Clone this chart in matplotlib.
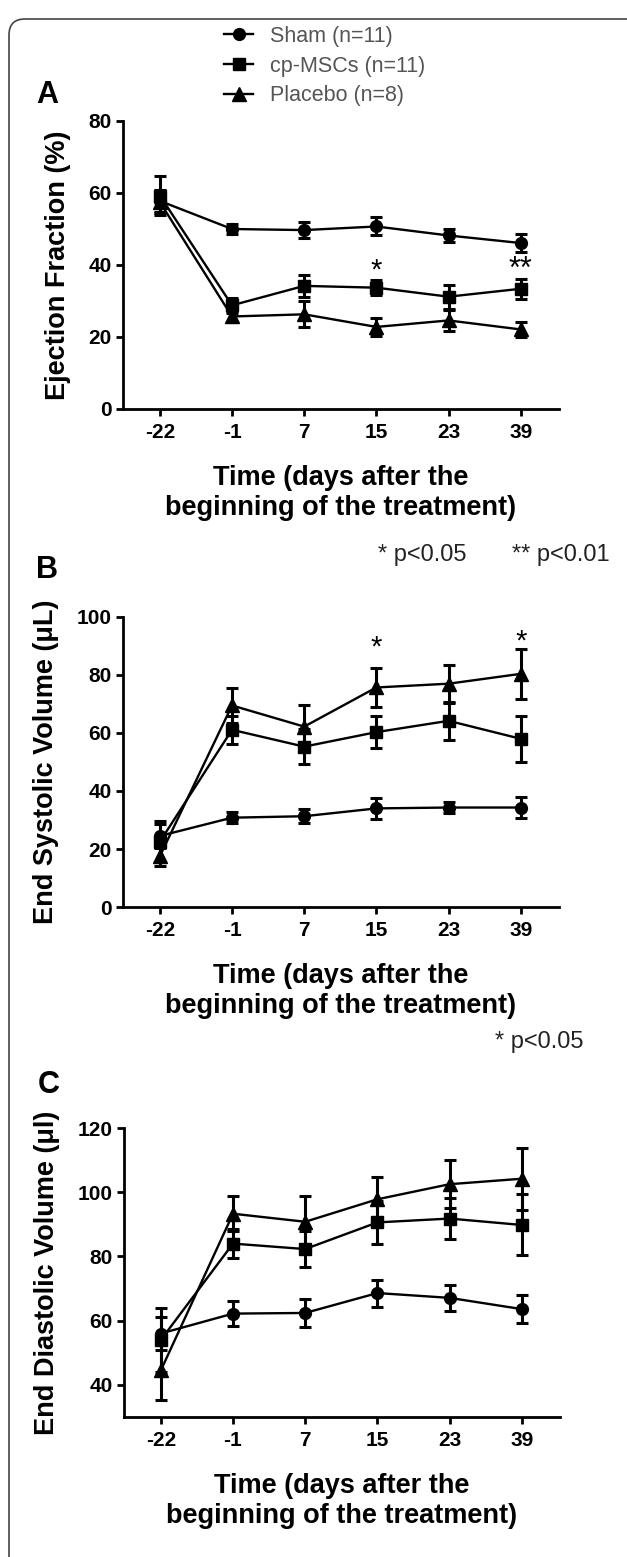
import matplotlib
matplotlib.use('Agg')
from matplotlib import pyplot as plt
from matplotlib.patches import FancyBboxPatch

plt.rcParams['font.family'] = ['Liberation Sans', 'DejaVu Sans']

days = ['-22', '-1', '7', '15', '23', '39']
groups = ['Sham (n=11)', 'cp-MSCs (n=11)', 'Placebo (n=8)']
markers = ['o', 's', '^']

# ejection fraction (%)
ef_sham = [57.8, 50.0, 49.7, 50.7, 48.2, 46.1]
ef_sham_err = [3.0, 1.5, 2.3, 2.5, 1.8, 2.4]
ef_msc = [59.3, 28.8, 34.2, 33.7, 31.2, 33.4]
ef_msc_err = [5.5, 2.0, 3.0, 2.0, 3.3, 2.8]
ef_plac = [57.5, 25.7, 26.3, 22.8, 24.6, 22.1]
ef_plac_err = [3.0, 1.5, 3.6, 2.5, 2.8, 2.0]

# end systolic volume (uL)
esv_sham = [24.5, 30.8, 31.3, 34.0, 34.3, 34.3]
esv_sham_err = [4.0, 2.0, 2.5, 3.5, 2.0, 3.5]
esv_msc = [22.5, 61.1, 55.3, 60.3, 64.2, 58.0]
esv_msc_err = [7.0, 4.8, 6.0, 5.5, 6.5, 8.0]
esv_plac = [17.5, 69.5, 62.2, 75.7, 77.0, 80.4]
esv_plac_err = [3.5, 6.0, 7.5, 6.8, 6.6, 8.6]

# end diastolic volume (ul)
edv_sham = [56.0, 62.2, 62.4, 68.6, 67.1, 63.6]
edv_sham_err = [5.0, 3.8, 4.3, 4.2, 4.0, 4.3]
edv_msc = [54.0, 84.0, 82.3, 90.6, 91.8, 89.8]
edv_msc_err = [10.0, 4.4, 5.6, 6.7, 6.4, 9.5]
edv_plac = [44.5, 93.3, 90.8, 97.8, 102.5, 104.2]
edv_plac_err = [9.2, 5.5, 8.0, 6.8, 7.4, 9.6]

W, H = 627, 1557


def fx(px):
    return px / W


def fy(py):
    return 1 - py / H


fig = plt.figure(figsize=(W / 100, H / 100), dpi=100)

# rounded frame
frame = FancyBboxPatch((0.09, -0.2), 6.5, 15.58, boxstyle='round,pad=0,rounding_size=0.16',
                       transform=fig.dpi_scale_trans, fill=False, edgecolor='#444444', linewidth=1.2)
fig.patches.append(frame)

panels = [
    # top px, bottom px, left px, right px, ylim, yticks, ylabel, ylabel x, letter pos
    (121, 409, 123, 559, (0, 80), [0, 20, 40, 60, 80], 'Ejection Fraction (%)', 58, (47, 95),
     [ef_sham, ef_msc, ef_plac], [ef_sham_err, ef_msc_err, ef_plac_err], 'A'),
    (617, 907, 123, 559, (0, 100), [0, 20, 40, 60, 80, 100], 'End Systolic Volume (\u03bcL)', 46, (47, 570),
     [esv_sham, esv_msc, esv_plac], [esv_sham_err, esv_msc_err, esv_plac_err], 'B'),
    (1128, 1417, 124, 560, (30, 120), [40, 60, 80, 100, 120], 'End Diastolic Volume (\u03bcl)', 47, (49, 1085),
     [edv_sham, edv_msc, edv_plac], [edv_sham_err, edv_msc_err, edv_plac_err], 'C'),
]

x = list(range(len(days)))
axes_list = []
handles = []
for top, bot, left, right, ylim, yticks, ylabel, ylx, lpos, series, errs, letter in panels:
    ax = fig.add_axes([fx(left), fy(bot), (right - left) / W, (bot - top) / H])
    axes_list.append(ax)
    handles = []
    for vals, err, m in zip(series, errs, markers):
        c = ax.errorbar(x, vals, yerr=err, color='black', marker=m,
                        markersize=9.5 if m == '^' else 8.5, linewidth=1.7,
                        elinewidth=2.2, capsize=4.5, capthick=2.2)
        handles.append(c[0])
    ax.set_xlim(-0.51, 5.53)
    ax.set_ylim(*ylim)
    ax.set_xticks(x)
    ax.set_xticklabels(days)
    ax.set_yticks(yticks)
    ax.spines['top'].set_visible(False)
    ax.spines['right'].set_visible(False)
    for s in ['left', 'bottom']:
        ax.spines[s].set_linewidth(2)
    ax.tick_params(axis='both', length=5, width=2, labelsize=15, direction='out')
    ax.tick_params(axis='x', pad=5)
    ax.tick_params(axis='y', pad=3)
    for lab in ax.get_xticklabels() + ax.get_yticklabels():
        lab.set_fontweight('bold')
    fig.text(fx(ylx), fy((top + bot) / 2), ylabel, rotation=90, ha='center', va='center',
             fontsize=19.5, fontweight='bold')
    fig.text(fx((left + right) / 2), fy(bot + 84), 'Time (days after the\nbeginning of the treatment)',
             ha='center', va='center', fontsize=19.5, fontweight='bold', linespacing=1.2)
    fig.text(fx(lpos[0]), fy(lpos[1]), letter, ha='center', va='center', fontsize=22, fontweight='bold')

# significance marks
axA, axB, axC = axes_list
axA.text(3, 38.5, '*', ha='center', va='center', fontsize=21)
axA.text(5, 38.5, '**', ha='center', va='center', fontsize=22)
axB.text(3, 89.5, '*', ha='center', va='center', fontsize=21)
axB.text(5, 91.5, '*', ha='center', va='center', fontsize=21)

fig.text(fx(378), fy(555), '* p<0.05', ha='left', va='center', fontsize=17, color='#222222')
fig.text(fx(512), fy(555), '** p<0.01', ha='left', va='center', fontsize=17, color='#222222')
fig.text(fx(495), fy(1042), '* p<0.05', ha='left', va='center', fontsize=17, color='#222222')

fig.legend(handles, groups, loc='upper left', bbox_to_anchor=(fx(224), fy(26)), frameon=False,
           fontsize=15.5, labelcolor='#555555', handlelength=1.35, handletextpad=0.8,
           labelspacing=0.4, borderpad=0, borderaxespad=0, numpoints=1)

fig.savefig('out.png', dpi=100)
